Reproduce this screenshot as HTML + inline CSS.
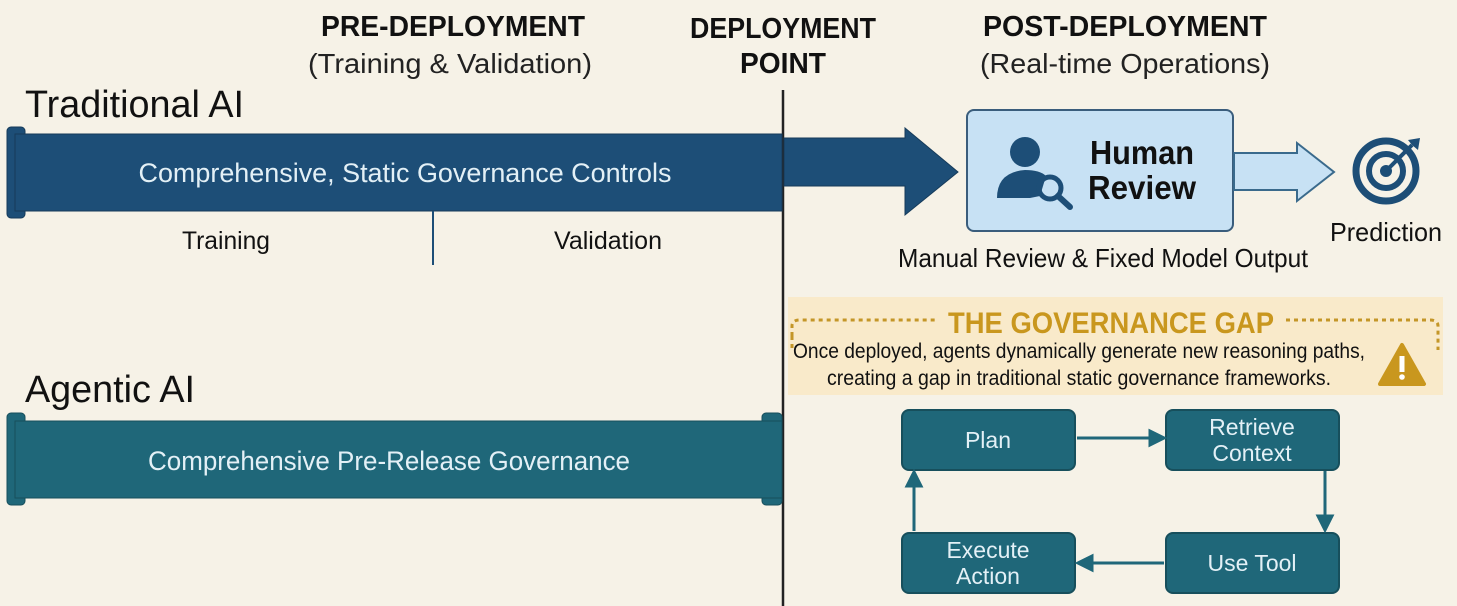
<!DOCTYPE html>
<html><head><meta charset="utf-8"><style>html,body{margin:0;padding:0;background:#f6f2e7}svg{display:block}text{font-family:"Liberation Sans",sans-serif}</style></head><body>
<svg width="1457" height="606" viewBox="0 0 1457 606" xmlns="http://www.w3.org/2000/svg">
<rect width="1457" height="606" fill="#f6f2e7"/>
<!-- headers -->
<g font-weight="bold" font-size="29" fill="#111" text-anchor="middle">
<text x="453" y="36" textLength="264" lengthAdjust="spacingAndGlyphs">PRE-DEPLOYMENT</text>
<text x="783" y="38" textLength="186" lengthAdjust="spacingAndGlyphs">DEPLOYMENT</text>
<text x="783" y="73" textLength="86" lengthAdjust="spacingAndGlyphs">POINT</text>
<text x="1125" y="36" textLength="284" lengthAdjust="spacingAndGlyphs">POST-DEPLOYMENT</text>
</g>
<g font-size="28" fill="#222" text-anchor="middle">
<text x="450" y="73" textLength="284" lengthAdjust="spacingAndGlyphs">(Training &amp; Validation)</text>
<text x="1125" y="73" textLength="290" lengthAdjust="spacingAndGlyphs">(Real-time Operations)</text>
</g>
<text x="25" y="117" font-size="38" fill="#111" textLength="219" lengthAdjust="spacingAndGlyphs">Traditional AI</text>
<text x="25" y="402" font-size="38" fill="#111" textLength="170" lengthAdjust="spacingAndGlyphs">Agentic AI</text>
<!-- deployment line -->
<line x1="783" y1="90" x2="783" y2="606" stroke="#222" stroke-width="2.5"/>
<!-- traditional bar -->
<rect x="7" y="127" width="18" height="91" rx="4" fill="#1d4e77" stroke="#163b5a"/>
<rect x="15" y="134" width="767" height="77" fill="#1d4e77" stroke="#163b5a"/>
<text x="405" y="182" font-size="27" fill="#e3f0f6" text-anchor="middle" textLength="533" lengthAdjust="spacingAndGlyphs">Comprehensive, Static Governance Controls</text>
<line x1="433" y1="211" x2="433" y2="265" stroke="#1d4e77" stroke-width="2"/>
<text x="226" y="249" font-size="25" fill="#111" text-anchor="middle" textLength="88" lengthAdjust="spacingAndGlyphs">Training</text>
<text x="608" y="249" font-size="25" fill="#111" text-anchor="middle" textLength="108" lengthAdjust="spacingAndGlyphs">Validation</text>
<!-- agentic bar -->
<rect x="7" y="413" width="18" height="92" rx="4" fill="#1f6779" stroke="#174f5c"/>
<rect x="762" y="413" width="20" height="92" rx="4" fill="#1f6779" stroke="#174f5c"/>
<rect x="15" y="421" width="767" height="77" fill="#1f6779" stroke="#174f5c"/>
<text x="389" y="470" font-size="27" fill="#e3f0f6" text-anchor="middle" textLength="482" lengthAdjust="spacingAndGlyphs">Comprehensive Pre-Release Governance</text>
<!-- big arrow -->
<polygon points="784,138 905,138 905,128 958,172 905,215 905,186 784,186" fill="#1d4e77" stroke="#163b5a"/>
<!-- human review -->
<rect x="967" y="110" width="266" height="121" rx="7" fill="#c7e1f4" stroke="#3a5d7c" stroke-width="2"/>
<circle cx="1025" cy="152" r="15" fill="#1d4e77"/>
<path d="M997,198 Q997,172 1025,170 Q1040,170 1046,176 L1040,196 L1030,198 Z" fill="#1d4e77"/>
<circle cx="1050" cy="188" r="11" fill="none" stroke="#1d4e77" stroke-width="5"/>
<line x1="1058" y1="196" x2="1070" y2="207" stroke="#1d4e77" stroke-width="6" stroke-linecap="round"/>
<g font-weight="bold" font-size="33" fill="#111" text-anchor="middle">
<text x="1142" y="164" textLength="104" lengthAdjust="spacingAndGlyphs">Human</text>
<text x="1142" y="199" textLength="108" lengthAdjust="spacingAndGlyphs">Review</text>
</g>
<polygon points="1234,153 1297,153 1297,143 1334,172 1297,201 1297,190 1234,190" fill="#c7e1f4" stroke="#3a6a8c" stroke-width="2"/>
<!-- target -->
<circle cx="1386" cy="171" r="30" fill="none" stroke="#1d4e77" stroke-width="7"/>
<circle cx="1386" cy="171" r="17" fill="none" stroke="#1d4e77" stroke-width="6"/>
<circle cx="1386" cy="171" r="6" fill="#1d4e77"/>
<line x1="1388" y1="169" x2="1412" y2="145" stroke="#1d4e77" stroke-width="4"/>
<polygon points="1408,140 1420,138 1418,150 1412,145" fill="#1d4e77"/>
<text x="1386" y="241" font-size="26" fill="#111" text-anchor="middle" textLength="112" lengthAdjust="spacingAndGlyphs">Prediction</text>
<text x="1103" y="267" font-size="26" fill="#111" text-anchor="middle" textLength="410" lengthAdjust="spacingAndGlyphs">Manual Review &amp; Fixed Model Output</text>
<!-- gap box -->
<rect x="788" y="297" width="655" height="98" fill="#f9e9c4" opacity="0.85"/>
<path d="M792,336 L792,326 Q792,320 800,320 L936,320 M1286,320 L1430,320 Q1438,320 1438,326 L1438,350" fill="none" stroke="#c49628" stroke-width="3" stroke-dasharray="4,4"/>
<line x1="792" y1="336" x2="792" y2="350" stroke="#c49628" stroke-width="3" stroke-dasharray="4,4"/>
<text x="1111" y="333" font-size="30" font-weight="bold" fill="#c9971e" text-anchor="middle" textLength="326" lengthAdjust="spacingAndGlyphs">THE GOVERNANCE GAP</text>
<g font-size="21" fill="#111" text-anchor="middle">
<text x="1079" y="358" textLength="572" lengthAdjust="spacingAndGlyphs">Once deployed, agents dynamically generate new reasoning paths,</text>
<text x="1079" y="385" textLength="504" lengthAdjust="spacingAndGlyphs">creating a gap in traditional static governance frameworks.</text>
</g>
<path d="M1402,345 L1424,384 L1380,384 Z" fill="#c9971e" stroke="#c9971e" stroke-width="4" stroke-linejoin="round"/>
<rect x="1399.5" y="356" width="5" height="16" fill="#fff"/>
<circle cx="1402" cy="377" r="2.8" fill="#fff"/>
<!-- cycle -->
<g fill="#1f6779" stroke="#174f5c" stroke-width="2">
<rect x="902" y="410" width="173" height="60" rx="7"/>
<rect x="1166" y="410" width="173" height="60" rx="7"/>
<rect x="902" y="533" width="173" height="60" rx="7"/>
<rect x="1166" y="533" width="173" height="60" rx="7"/>
</g>
<g font-size="23" fill="#e3f0f6" text-anchor="middle">
<text x="988" y="448">Plan</text>
<text x="1252" y="435">Retrieve</text>
<text x="1252" y="461">Context</text>
<text x="988" y="558">Execute</text>
<text x="988" y="584">Action</text>
<text x="1252" y="571">Use Tool</text>
</g>
<g stroke="#1f6779" stroke-width="3" fill="#1f6779">
<line x1="1077" y1="438" x2="1152" y2="438"/><polygon points="1164,438 1150,431 1150,445"/>
<line x1="1325" y1="471" x2="1325" y2="518"/><polygon points="1325,530 1318,516 1332,516"/>
<line x1="1164" y1="563" x2="1090" y2="563"/><polygon points="1078,563 1092,556 1092,570"/>
<line x1="914" y1="531" x2="914" y2="484"/><polygon points="914,472 907,486 921,486"/>
</g>
</svg>
</body></html>
